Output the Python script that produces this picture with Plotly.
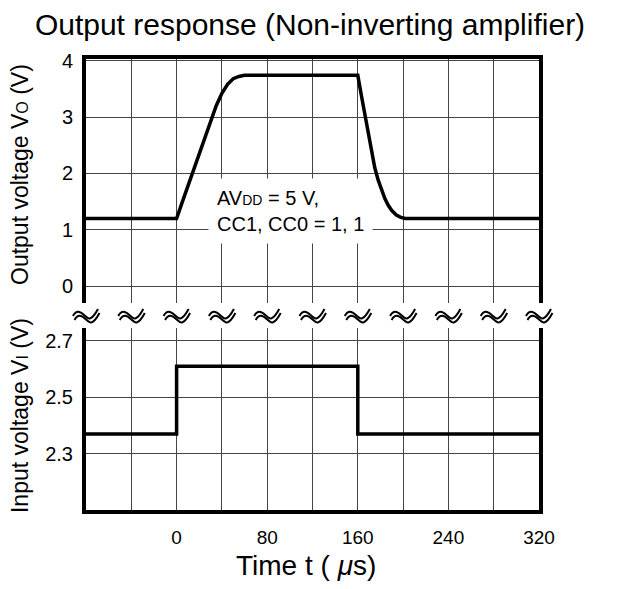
import plotly.graph_objects as go
from plotly.subplots import make_subplots

# output response VO (V) vs time (us)
t_out = [-80, 0, 5, 10, 15, 20, 25, 30, 35, 40, 45, 50, 55, 60,
         160, 163, 166, 169, 172, 175, 178, 181, 184, 187, 190, 194, 198, 202, 320]
v_out = [1.2, 1.2, 1.49, 1.78, 2.07, 2.36, 2.65, 2.93, 3.2, 3.42, 3.58, 3.68, 3.72, 3.74,
         3.74, 3.4, 3.06, 2.73, 2.41, 2.1, 1.88, 1.7, 1.55, 1.43, 1.34, 1.26, 1.22, 1.2, 1.2]

# input step VI (V)
t_in = [-80, 0, 0, 160, 160, 320]
v_in = [2.37, 2.37, 2.61, 2.61, 2.37, 2.37]

x_grid = [-80, -40, 0, 40, 80, 120, 160, 200, 240, 280, 320]
x_labels = ["", "", "0", "", "80", "", "160", "", "240", "", "320"]
y_out_ticks = [0, 1, 2, 3, 4]
y_in_ticks = [2.3, 2.5, 2.7]
y_in_labels = ["2.3", "2.5", "2.7"]

FONT = "Liberation Sans, Arial, sans-serif"
X_MIN, X_MAX = -80, 320

fig = make_subplots(rows=2, cols=1, shared_xaxes=True)

fig.add_trace(go.Scatter(x=t_out, y=v_out, mode="lines",
                         line=dict(color="black", width=3.5), showlegend=False), row=1, col=1)
fig.add_trace(go.Scatter(x=t_in, y=v_in, mode="lines",
                         line=dict(color="black", width=3.5), showlegend=False), row=2, col=1)

axis_common = dict(showline=True, linecolor="black", linewidth=4,
                   showgrid=True, gridcolor="#444", gridwidth=1,
                   zeroline=False, ticks="")

fig.update_xaxes(range=[X_MIN, X_MAX], tickvals=x_grid, ticktext=x_labels,
                 tickfont=dict(family=FONT, size=19, color="black"), **axis_common)
fig.update_xaxes(side="top", showticklabels=False, row=1, col=1)
fig.update_xaxes(ticklabelstandoff=7, row=2, col=1)

fig.update_yaxes(mirror=True, ticklabelstandoff=5,
                 tickfont=dict(family=FONT, size=20, color="black"), **axis_common)
fig.update_yaxes(domain=[0.459, 1.0], range=[-0.3, 4.03], tickvals=y_out_ticks, row=1, col=1)
fig.update_yaxes(domain=[0.0, 0.4035], range=[2.1, 2.746], tickvals=y_in_ticks,
                 ticktext=y_in_labels, row=2, col=1)

# axis break marks between the two panels
wave = [(-13, 0), (-10, 6), (-6, 5), (-2, 1), (2, -3), (5, -6), (12, 7)]


def wave_path(dx, dy):
    p = [(x + dx, y + dy) for x, y in wave]
    return ("M{},{} C{},{} {},{} {},{} C{},{} {},{} {},{}"
            .format(*[v for pt in p for v in pt]))


for xv in x_grid:
    for dx, dy in [(0, 0), (1.5, -4)]:
        fig.add_shape(type="path", path=wave_path(dx, dy),
                      xref="paper", yref="paper", xsizemode="pixel", ysizemode="pixel",
                      xanchor=(xv - X_MIN) / (X_MAX - X_MIN), yanchor=0.43,
                      line=dict(color="black", width=2))

fig.add_annotation(x=101, y=1.34, xref="x", yref="y",
                   text="AV<span style='font-size:14px'>DD</span> = 5 V,<br>CC1, CC0 = 1, 1",
                   showarrow=False, align="left", bgcolor="white", borderpad=8,
                   font=dict(family=FONT, size=20, color="black"))

fig.add_annotation(x=-0.1457, y=0.745, xref="paper", yref="paper", textangle=-90,
                   xanchor="center", yanchor="middle",
                   text="Output voltage V<span style='font-size:16px'>O</span> (V)",
                   showarrow=False, font=dict(family=FONT, size=23, color="black"))
fig.add_annotation(x=-0.1457, y=0.2106, xref="paper", yref="paper", textangle=-90,
                   xanchor="center", yanchor="middle",
                   text="Input voltage V<span style='font-size:16px'>I</span> (V)",
                   showarrow=False, font=dict(family=FONT, size=23, color="black"))
fig.add_annotation(x=0.485, y=-0.122, xref="paper", yref="paper",
                   xanchor="center", yanchor="middle",
                   text="Time t ( <i>μ</i>s)",
                   showarrow=False, font=dict(family=FONT, size=28, color="black"))

fig.update_layout(
    width=604, height=573,
    margin=dict(l=78, r=73, t=51, b=71),
    paper_bgcolor="white", plot_bgcolor="white",
    title=dict(text="Output response (Non-inverting amplifier)",
               x=0.5, xanchor="center", y=0.971, yanchor="middle", yref="container",
               font=dict(family=FONT, size=30, color="black")),
)

fig.write_html("out.html")
